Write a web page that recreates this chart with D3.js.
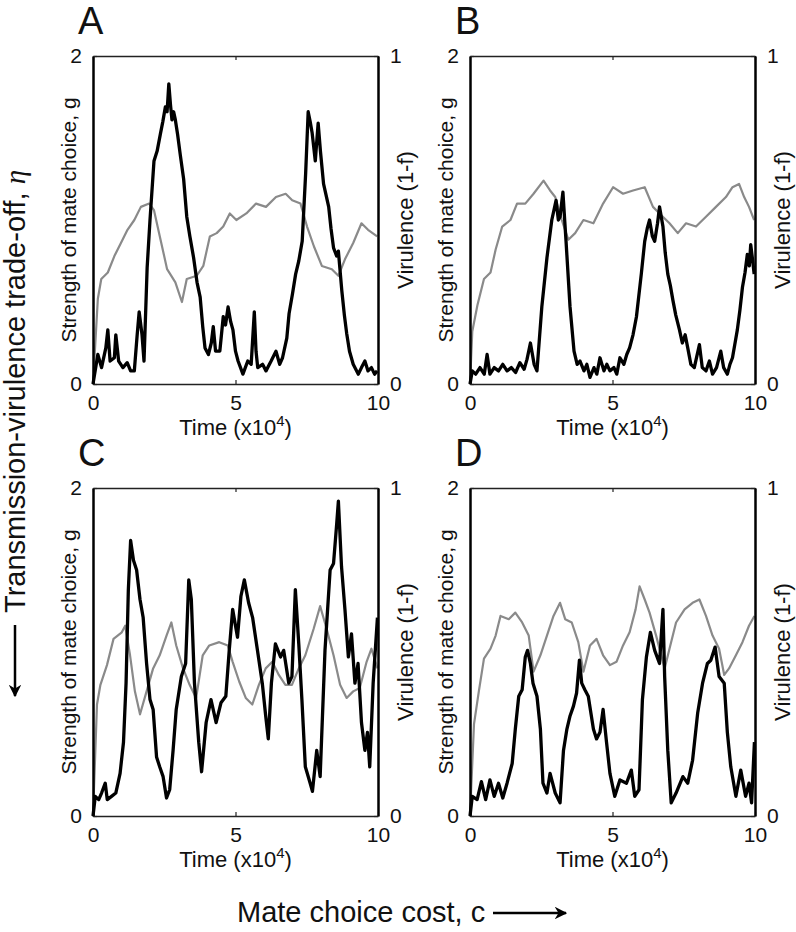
<!DOCTYPE html>
<html>
<head>
<meta charset="utf-8">
<script src="https://cdn.jsdelivr.net/npm/d3@7"></script>
<style>
  body { margin: 0; background: #fff; }
  svg text { font-family: "Liberation Sans", Arial, sans-serif; fill: #111; }
</style>
</head>
<body>
<div id="chart"></div>
<script>
// time in units of 10^4, g on the left axis (0-2), virulence (1-f) on the right axis (0-1)
const xTicks = [0, 5, 10];
const gTicks = [0, 2];
const vTicks = [0, 1];
const panelLetters = ["A", "B", "C", "D"];

// panel A
const tGA = [0,0.17,0.3,0.45,0.52,0.6,0.75,0.8,0.9,1.05,1.2,1.32,1.45,1.55,1.62,1.72,1.79,1.9,2.0,2.14,2.25,2.37,2.45,2.54,2.6,2.66,2.72,2.77,2.83,2.89,2.97,3.06,3.18,3.29,3.4,3.53,3.65,3.76,3.85,3.93,4.05,4.15,4.22,4.3,4.45,4.57,4.65,4.74,4.83,4.91,5.0,5.09,5.26,5.43,5.55,5.66,5.72,5.78,5.95,6.07,6.25,6.42,6.55,6.65,6.8,6.88,7.0,7.11,7.22,7.34,7.46,7.55,7.62,7.69,7.8,7.9,7.98,8.09,8.18,8.27,8.35,8.44,8.55,8.61,8.73,8.82,8.9,9.0,9.13,9.31,9.42,9.54,9.65,9.77,9.88,9.97];
const gA = [0,0.18,0.1,0.22,0.33,0.14,0.16,0.3,0.14,0.1,0.13,0.08,0.08,0.3,0.44,0.3,0.14,0.71,1.0,1.36,1.42,1.53,1.6,1.69,1.66,1.83,1.7,1.61,1.66,1.61,1.52,1.4,1.25,1.02,0.9,0.77,0.62,0.53,0.35,0.22,0.18,0.25,0.35,0.2,0.2,0.41,0.36,0.47,0.38,0.33,0.2,0.14,0.06,0.14,0.12,0.44,0.2,0.1,0.12,0.08,0.14,0.2,0.12,0.16,0.28,0.43,0.55,0.67,0.75,0.87,1.28,1.66,1.6,1.53,1.36,1.59,1.42,1.22,1.15,1.08,0.95,0.83,0.78,0.81,0.57,0.42,0.31,0.2,0.12,0.06,0.1,0.14,0.08,0.1,0.06,0.08];
const tVA = [0,0.17,0.29,0.52,0.75,0.98,1.21,1.45,1.68,1.97,2.14,2.37,2.6,2.89,3.12,3.29,3.64,3.87,4.1,4.34,4.57,4.8,5.03,5.38,5.72,6.07,6.42,6.76,6.99,7.28,7.51,7.75,8.03,8.38,8.61,8.84,9.13,9.42,9.65,9.97];
const vA = [0,0.26,0.32,0.34,0.39,0.43,0.47,0.5,0.54,0.55,0.53,0.44,0.35,0.31,0.25,0.32,0.33,0.36,0.45,0.46,0.48,0.52,0.5,0.52,0.55,0.54,0.57,0.58,0.56,0.55,0.48,0.42,0.36,0.35,0.33,0.38,0.43,0.49,0.47,0.45];

// panel B
const tGB = [0,0.08,0.2,0.35,0.5,0.6,0.7,0.85,1.0,1.15,1.3,1.45,1.6,1.75,1.9,2.0,2.12,2.25,2.35,2.52,2.7,2.87,3.02,3.1,3.16,3.26,3.37,3.51,3.65,3.76,3.86,4.0,4.1,4.21,4.35,4.45,4.56,4.7,4.8,4.91,5.05,5.15,5.26,5.4,5.5,5.6,5.72,5.84,6.01,6.13,6.22,6.3,6.4,6.48,6.58,6.65,6.77,6.85,6.94,7.03,7.12,7.22,7.35,7.45,7.55,7.64,7.75,7.87,8.05,8.15,8.28,8.4,8.51,8.65,8.8,8.9,9.03,9.12,9.21,9.3,9.38,9.47,9.56,9.65,9.73,9.8,9.85,9.92,9.97];
const gB = [0,0.08,0.06,0.1,0.06,0.18,0.06,0.1,0.08,0.12,0.08,0.1,0.07,0.13,0.09,0.15,0.25,0.12,0.08,0.47,0.77,1.0,1.12,1.0,1.02,1.17,0.87,0.47,0.2,0.12,0.14,0.08,0.12,0.04,0.1,0.06,0.16,0.08,0.12,0.08,0.1,0.06,0.16,0.12,0.18,0.22,0.3,0.41,0.67,0.87,0.95,1.0,0.9,0.87,0.98,1.08,0.96,0.8,0.67,0.6,0.51,0.42,0.33,0.25,0.3,0.22,0.12,0.1,0.24,0.1,0.08,0.14,0.06,0.1,0.2,0.1,0.06,0.12,0.16,0.25,0.33,0.45,0.59,0.68,0.79,0.72,0.85,0.75,0.67];
const tVB = [0,0.08,0.26,0.49,0.72,0.9,1.13,1.42,1.65,1.94,2.23,2.58,2.81,2.99,3.22,3.45,3.69,3.98,4.33,4.67,5.02,5.37,5.72,6.13,6.42,6.65,7.0,7.29,7.58,7.93,8.28,8.63,8.98,9.21,9.44,9.62,9.79,9.97];
const vB = [0,0.16,0.24,0.32,0.34,0.41,0.48,0.5,0.55,0.55,0.58,0.62,0.59,0.57,0.5,0.44,0.46,0.5,0.49,0.55,0.6,0.58,0.59,0.6,0.54,0.52,0.49,0.46,0.49,0.48,0.51,0.54,0.57,0.6,0.61,0.57,0.54,0.5];

// panel C
const tGC = [0,0.08,0.2,0.3,0.43,0.5,0.65,0.8,0.95,1.07,1.16,1.24,1.32,1.42,1.53,1.65,1.76,1.88,2.0,2.11,2.23,2.34,2.46,2.58,2.69,2.81,2.92,3.1,3.25,3.36,3.45,3.56,3.71,3.81,3.97,4.14,4.32,4.49,4.66,4.78,4.9,5.07,5.19,5.31,5.46,5.6,5.77,5.94,6.06,6.15,6.26,6.4,6.58,6.69,6.87,6.98,7.1,7.22,7.33,7.45,7.62,7.7,7.85,7.97,8.14,8.32,8.44,8.55,8.61,8.72,8.84,8.96,9.07,9.19,9.3,9.42,9.54,9.63,9.71,9.83,9.98];
const gC = [0,0.12,0.1,0.14,0.2,0.1,0.12,0.14,0.26,0.45,0.81,1.38,1.68,1.56,1.5,1.32,1.21,0.93,0.71,0.65,0.36,0.3,0.24,0.11,0.16,0.4,0.65,0.85,0.93,1.44,1.32,0.81,0.45,0.27,0.57,0.71,0.57,0.69,0.73,1.01,1.26,1.09,1.34,1.44,1.3,1.21,1.01,0.81,0.61,0.47,0.81,1.05,0.97,1.01,0.81,0.85,1.38,1.05,0.71,0.3,0.2,0.15,0.4,0.24,1.01,1.5,1.54,1.78,1.92,1.52,1.26,0.97,1.11,0.81,0.93,0.57,0.4,0.51,0.3,0.81,1.21];
const tVC = [0,0.14,0.26,0.49,0.72,1.01,1.13,1.3,1.47,1.65,1.88,2.11,2.34,2.58,2.75,2.92,3.16,3.39,3.62,3.85,4.08,4.43,4.73,4.9,5.13,5.36,5.59,5.82,6.06,6.29,6.52,6.75,6.98,7.22,7.45,7.74,7.97,8.2,8.44,8.67,8.9,9.13,9.36,9.6,9.77,9.98];
const vC = [0,0.34,0.4,0.46,0.54,0.56,0.58,0.49,0.38,0.31,0.38,0.45,0.49,0.55,0.59,0.52,0.45,0.4,0.36,0.49,0.52,0.53,0.52,0.47,0.41,0.36,0.34,0.4,0.45,0.47,0.43,0.4,0.4,0.45,0.49,0.57,0.64,0.57,0.49,0.4,0.36,0.38,0.39,0.47,0.51,0.45];

// panel D
const tGD = [0,0.08,0.25,0.4,0.55,0.7,0.85,1.0,1.15,1.3,1.48,1.59,1.71,1.83,1.94,2.02,2.12,2.21,2.35,2.47,2.56,2.7,2.81,2.99,3.16,3.28,3.4,3.51,3.63,3.74,3.84,3.92,4.03,4.15,4.33,4.44,4.56,4.67,4.79,4.91,5.08,5.26,5.49,5.66,5.78,5.93,6.05,6.19,6.33,6.48,6.65,6.77,6.83,6.94,7.06,7.23,7.47,7.64,7.81,7.99,8.16,8.33,8.45,8.6,8.74,8.92,9.03,9.15,9.33,9.5,9.67,9.79,9.88,9.98];
const gD = [0,0.12,0.1,0.21,0.1,0.22,0.12,0.2,0.11,0.2,0.32,0.53,0.73,0.77,0.97,1.01,0.93,0.81,0.73,0.53,0.2,0.14,0.26,0.14,0.08,0.4,0.53,0.61,0.67,0.75,0.95,0.81,0.77,0.73,0.53,0.47,0.51,0.65,0.45,0.26,0.12,0.22,0.2,0.28,0.12,0.16,0.71,0.97,1.12,1.01,0.93,1.26,0.85,0.4,0.08,0.14,0.24,0.2,0.34,0.63,0.81,0.93,0.95,1.03,0.85,0.81,0.51,0.3,0.12,0.28,0.12,0.2,0.08,0.45];
const tVD = [0,0.14,0.31,0.49,0.72,0.9,1.07,1.36,1.59,1.83,2.06,2.23,2.47,2.7,2.93,3.16,3.34,3.57,3.8,3.98,4.21,4.44,4.67,4.91,5.14,5.37,5.6,5.81,5.95,6.13,6.3,6.53,6.83,7.0,7.23,7.53,7.81,8.05,8.28,8.51,8.74,8.92,9.09,9.33,9.56,9.79,9.98];
const vD = [0,0.28,0.38,0.48,0.51,0.55,0.61,0.6,0.62,0.59,0.55,0.44,0.49,0.55,0.61,0.65,0.6,0.59,0.53,0.44,0.52,0.54,0.49,0.46,0.47,0.52,0.56,0.63,0.7,0.66,0.62,0.55,0.45,0.51,0.59,0.63,0.65,0.66,0.61,0.55,0.51,0.43,0.45,0.49,0.53,0.58,0.61];

const panels = [
  { letter: panelLetters[0], tg: tGA, g: gA, tv: tVA, v: vA, left: 93, top: 56 },
  { letter: panelLetters[1], tg: tGB, g: gB, tv: tVB, v: vB, left: 470, top: 56 },
  { letter: panelLetters[2], tg: tGC, g: gC, tv: tVC, v: vC, left: 93, top: 488 },
  { letter: panelLetters[3], tg: tGD, g: gD, tv: tVD, v: vD, left: 470, top: 488 },
];

const width = 796;
const height = 932;
const iwidth = 285;
const iheight = 328;
const fmt = d3.format("~g");

const svg = d3.select("#chart").append("svg")
  .attr("width", width)
  .attr("height", height);

function drawPanel(p) {
  const g = svg.append("g").attr("transform", `translate(${p.left},${p.top})`);

  const x = d3.scaleLinear().domain([0, 10]).range([0, iwidth]);
  const yG = d3.scaleLinear().domain([0, 2]).range([iheight, 0]);
  const yV = d3.scaleLinear().domain([0, 1]).range([iheight, 0]);

  const vLine = d3.line().x((d) => x(d[0])).y((d) => yV(d[1]));
  const gLine = d3.line().x((d) => x(d[0])).y((d) => yG(d[1]));

  g.append("path")
    .datum(d3.zip(p.tv, p.v))
    .attr("fill", "none")
    .attr("stroke", "#8a8a8a")
    .attr("stroke-width", 2.2)
    .attr("stroke-linejoin", "round")
    .attr("d", vLine);

  g.append("path")
    .datum(d3.zip(p.tg, p.g))
    .attr("fill", "none")
    .attr("stroke", "#000")
    .attr("stroke-width", 3.3)
    .attr("stroke-linejoin", "round")
    .attr("d", gLine);

  // axes, ticks pointing inward like the original
  const bottom = g.append("g").attr("transform", `translate(0,${iheight})`)
    .call(d3.axisBottom(x).tickValues(xTicks).tickFormat(fmt).tickSize(-4).tickSizeOuter(0).tickPadding(11));
  const top = g.append("g")
    .call(d3.axisTop(x).tickValues(xTicks).tickSize(-4).tickSizeOuter(0).tickFormat(""));
  const left = g.append("g")
    .call(d3.axisLeft(yG).tickValues(gTicks).tickFormat(fmt).tickSize(-4).tickSizeOuter(0).tickPadding(11));
  const right = g.append("g").attr("transform", `translate(${iwidth},0)`)
    .call(d3.axisRight(yV).tickValues(vTicks).tickFormat(fmt).tickSize(-4).tickSizeOuter(0).tickPadding(12));

  [bottom, top].forEach((a) => a.select(".domain").attr("stroke", "#222").attr("stroke-width", 1.5));
  [left, right].forEach((a) => a.select(".domain").attr("stroke", "#000").attr("stroke-width", 2.5));
  [bottom, top, left, right].forEach((a) => {
    a.selectAll(".tick line").attr("stroke", "#222").attr("stroke-width", 1.2);
    a.selectAll(".tick text").style("font-size", "21px").style("font-family", "Liberation Sans, Arial, sans-serif");
  });

  g.append("text")
    .attr("transform", `translate(-17,${iheight / 2}) rotate(-90)`)
    .attr("text-anchor", "middle")
    .style("font-size", "21px")
    .text("Strength of mate choice, g");

  g.append("text")
    .attr("transform", `translate(${iwidth + 35},${iheight / 2}) rotate(-90)`)
    .attr("text-anchor", "middle")
    .style("font-size", "22px")
    .text("Virulence (1-f)");

  const xl = g.append("text")
    .attr("x", iwidth / 2)
    .attr("y", iheight + 51)
    .attr("text-anchor", "middle")
    .style("font-size", "22px");
  xl.append("tspan").text("Time (x10");
  xl.append("tspan").attr("dy", -9).style("font-size", "15px").text("4");
  xl.append("tspan").attr("dy", 9).text(")");

  g.append("text")
    .attr("x", -15)
    .attr("y", -22)
    .style("font-size", "38px")
    .text(p.letter);
}

panels.forEach(drawPanel);

// shared outer labels with arrows
const defs = svg.append("defs");
defs.append("marker")
  .attr("id", "arrow")
  .attr("viewBox", "0 0 10 10")
  .attr("refX", 9).attr("refY", 5)
  .attr("markerWidth", 5).attr("markerHeight", 5)
  .attr("orient", "auto")
  .append("path").attr("d", "M0,0 L10,5 L0,10 L3,5 Z").attr("fill", "#000");

svg.append("text")
  .attr("x", 237)
  .attr("y", 922)
  .style("font-size", "29px")
  .text("Mate choice cost, c");
svg.append("line")
  .attr("x1", 493).attr("y1", 913).attr("x2", 566).attr("y2", 913)
  .attr("stroke", "#000").attr("stroke-width", 2.5)
  .attr("marker-end", "url(#arrow)");

const yl = svg.append("text")
  .attr("transform", "translate(25,613) rotate(-90)")
  .attr("text-anchor", "start")
  .style("font-size", "29px");
yl.append("tspan").text("Transmission-virulence trade-off, ");
yl.append("tspan").style("font-family", "Liberation Serif, serif").style("font-style", "italic").text("η");
svg.append("line")
  .attr("x1", 15).attr("y1", 625).attr("x2", 15).attr("y2", 696)
  .attr("stroke", "#000").attr("stroke-width", 2.5)
  .attr("marker-end", "url(#arrow)");
</script>
</body>
</html>
